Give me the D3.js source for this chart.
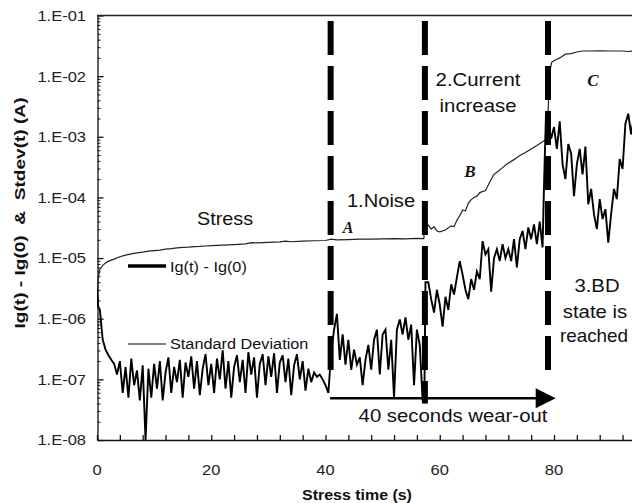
<!DOCTYPE html>
<html><head><meta charset="utf-8">
<script src="https://cdn.jsdelivr.net/npm/d3@7"></script>
<style>html,body{margin:0;padding:0;background:#fff;}svg{display:block;}</style>
</head><body>
<svg id="chart" width="632" height="503"></svg>
<script>
// ---- data ----
const igTime = [0,0.2,0.5,1,1.5,2,3,4,5,6,7,8,9,10,11,12,13,14,15,16,17,18,19,20,22,24,26,27,28,30,32,33,34,36,38,40,41,42,44,46,48,50,52,54,56,57.2,57.4,58,58.5,59,59.5,60,61,62,62.5,63,63.5,64,64.5,65,65.5,66,66.5,67,68,68.5,69,69.5,70,71,72,73,74,75,76,77,78,78.5,78.7,79,79.2,79.6,80,80.5,81,82,83,84,85,86,88,90,92,93,94];
const igValue = [2.0e-6,4.5e-6,6.5e-6,7.6e-6,8.3e-6,8.9e-6,9.6e-6,1.05e-5,1.12e-5,1.17e-5,1.22e-5,1.25e-5,1.3e-5,1.33e-5,1.35e-5,1.4e-5,1.43e-5,1.47e-5,1.5e-5,1.52e-5,1.55e-5,1.56e-5,1.58e-5,1.6e-5,1.63e-5,1.67e-5,1.72e-5,1.8e-5,1.78e-5,1.82e-5,1.85e-5,1.9e-5,1.86e-5,1.9e-5,1.93e-5,1.95e-5,2.05e-5,2.0e-5,2.02e-5,2.05e-5,2.05e-5,2.07e-5,2.1e-5,2.08e-5,2.12e-5,2.1e-5,3.2e-5,3.5e-5,3.0e-5,3.3e-5,2.8e-5,2.7e-5,2.9e-5,3.4e-5,3.3e-5,4.2e-5,5.0e-5,6.2e-5,6.0e-5,8.0e-5,9.2e-5,1.0e-4,1.05e-4,1.2e-4,1.3e-4,1.6e-4,2.0e-4,2.4e-4,2.6e-4,3.1e-4,3.7e-4,4.2e-4,4.9e-4,5.5e-4,6.3e-4,7.2e-4,8.3e-4,8.8e-4,1.5e-3,3.0e-3,1.1e-2,1.7e-2,1.8e-2,1.9e-2,2.0e-2,2.3e-2,2.35e-2,2.5e-2,2.6e-2,2.6e-2,2.62e-2,2.6e-2,2.6e-2,2.55e-2,2.62e-2];

const sdTime = [0,0.2,0.5,1,1.5,2,2.5,3,3.5,4,4.5,5,5.5,6,6.5,7,7.5,8,8.5,9,9.5,10,10.5,11,11.5,12,12.5,13,13.5,14,14.5,15,15.5,16,16.5,17,17.5,18,18.5,19,19.5,20,20.5,21,21.5,22,22.5,23,23.5,24,24.5,25,25.5,26,26.5,27,27.5,28,28.5,29,29.5,30,30.5,31,31.5,32,32.5,33,33.5,34,34.5,35,35.5,36,36.5,37,37.5,38,38.5,39,39.5,40,40.5,41,41.5,42,42.5,43,43.5,44,44.5,45,45.5,46,46.5,47,47.5,48,48.5,49,49.5,50,50.5,51,51.5,52,52.5,53,53.5,54,54.5,55,55.5,56,56.5,57,57.3,57.5,58,58.5,59,59.5,60,60.5,61,61.5,62,62.5,63,63.5,64,64.5,65,65.5,66,66.5,67,67.5,68,68.5,69,69.5,70,70.5,71,71.5,72,72.5,73,73.5,74,74.5,75,75.5,76,76.5,77,77.5,78,78.3,78.6,79,79.5,80,80.5,81,81.5,82,82.5,83,83.5,84,84.5,85,85.5,86,86.5,87,87.5,88,88.5,89,89.5,90,90.5,91,91.5,92,92.5,93,93.5,94];
const sdValue = [3.0e-6,1.6e-6,1.4e-6,4.5e-7,3.1e-7,2.5e-7,2.1e-7,1.8e-7,1.2e-7,2.0e-7,6e-8,1.6e-7,5e-8,2.2e-7,8e-8,1.4e-7,4.5e-8,1.7e-7,1.0e-8,1.5e-7,5e-8,1.8e-7,7e-8,2.0e-7,4.5e-8,1.3e-7,2.3e-7,6e-8,1.6e-7,9e-8,2.1e-7,5e-8,1.9e-7,1.1e-7,2.4e-7,7e-8,2.0e-7,5.5e-8,1.5e-7,2.6e-7,8e-8,1.8e-7,6e-8,2.2e-7,1.0e-7,3.0e-7,7e-8,2.0e-7,5e-8,1.6e-7,2.5e-7,9e-8,2.1e-7,6e-8,2.8e-7,1.2e-7,2.3e-7,5e-8,1.8e-7,2.6e-7,8e-8,2.4e-7,1.1e-7,2.7e-7,6e-8,1.9e-7,2.5e-7,9e-8,2.2e-7,5.5e-8,1.7e-7,2.6e-7,1.0e-7,2.0e-7,6.5e-8,1.5e-7,9e-8,1.3e-7,1.1e-7,1.2e-7,1.0e-7,8e-8,6e-8,2.8e-7,6.6e-7,1.2e-6,2.1e-7,5.5e-7,1.75e-7,4.5e-7,1.44e-7,3.1e-7,1.75e-7,2.3e-7,8e-8,2.1e-7,3.7e-7,1.44e-7,4.5e-7,6.6e-7,1.2e-7,5.5e-7,6.6e-7,1.44e-7,4.5e-7,5e-8,6.6e-7,9.7e-7,5.5e-7,1.05e-6,4.5e-7,8e-7,8e-8,6.6e-7,3.7e-7,4.6e-8,4.3e-8,4.0e-6,4.0e-6,2.1e-6,1.26e-6,3.0e-6,1.7e-6,7.4e-7,2.3e-6,1.4e-6,3.7e-6,2.5e-6,4.8e-6,8.9e-6,5.3e-6,3.0e-6,2.1e-6,4.5e-6,3.0e-6,6.0e-6,4.5e-6,1.9e-5,1.15e-5,1.4e-5,2.8e-6,1.0e-5,1.4e-5,8.9e-6,1.7e-5,1.0e-5,1.4e-5,8.9e-6,2.05e-5,7.0e-6,2.05e-5,2.8e-5,1.4e-5,3.2e-5,2.05e-5,3.6e-5,1.7e-5,4.0e-5,1.5e-5,2.4e-4,2.4e-3,1.65e-3,9.3e-4,1.45e-3,6.3e-4,1.8e-3,3.5e-4,2.0e-4,7.6e-4,5.3e-4,1.05e-4,3.5e-4,6.3e-4,2.4e-4,6.9e-4,7.7e-5,1.38e-4,5.3e-5,3.0e-5,9.4e-5,4.4e-5,6.4e-5,1.8e-5,5.3e-5,1.38e-4,9.4e-5,4.3e-4,2.95e-4,1.65e-3,2.4e-3,1.1e-3,2.1e-3];

const yTickValues = [1e-8,1e-7,1e-6,1e-5,1e-4,1e-3,1e-2,1e-1];
const yTickLabels = ["1.E-08","1.E-07","1.E-06","1.E-05","1.E-04","1.E-03","1.E-02","1.E-01"];
const xTickLabels = [0,20,40,60,80];
const phaseBoundaries = [40.9,57.4,78.95];
const phaseDashEnd = [1.4e-7,4.0e-8,1.4e-7];
const arrowSpan = [40.8,80.3];
const arrowLevel = 4.9e-8;

// ---- scales ----
const svg = d3.select("#chart");
const x = d3.scaleLinear().domain([0,100]).range([97,668.25]);
const y = d3.scaleLog().domain([1e-8,1e-1]).range([440,15.5]);
const SX = 1.1;

function label(px, py, s, o) {
  o = o || {};
  const g = svg.append("g").attr("transform", `translate(${px},${py}) scale(${o.sx||SX},1)`);
  return g.append("text").attr("x",0).attr("y",0)
    .attr("text-anchor", o.anchor||"start")
    .attr("font-family", o.family||"Liberation Sans, Arial, sans-serif")
    .attr("font-size", o.size||15)
    .attr("font-weight", o.weight||"normal")
    .attr("font-style", o.style||"normal")
    .attr("fill", o.fill||"#111")
    .attr("dy", o.dy||0)
    .text(s);
}

// clip
svg.append("defs").append("clipPath").attr("id","plotclip")
  .append("rect").attr("x",97).attr("y",15).attr("width",540).attr("height",426);

// axes
const xTicks = d3.range(0,101,4);
const gx = svg.append("g").attr("transform","translate(0,440)")
  .call(d3.axisBottom(x).tickValues(xTicks).tickSizeInner(-5).tickSizeOuter(0).tickFormat(""));
gx.selectAll("path,line").attr("stroke","#111").attr("stroke-width",1.3);

const minor = [];
for (let e=-8;e<-1;e++) for (let k=2;k<=9;k++) minor.push(k*Math.pow(10,e));
const gyMinor = svg.append("g").attr("transform","translate(97.5,0)")
  .call(d3.axisLeft(y).tickValues(minor).tickSizeInner(-3).tickSizeOuter(0).tickFormat(""));
gyMinor.selectAll("line").attr("stroke","#111").attr("stroke-width",1);
gyMinor.select("path").remove();
const gy = svg.append("g").attr("transform","translate(97.5,0)")
  .call(d3.axisLeft(y).tickValues(yTickValues).tickSizeInner(-6).tickSizeOuter(0).tickFormat(""));
gy.selectAll("path,line").attr("stroke","#111").attr("stroke-width",1.3);

// top border
svg.append("line").attr("x1",97).attr("x2",632).attr("y1",y(1e-1)).attr("y2",y(1e-1))
  .attr("stroke","#222").attr("stroke-width",1.3);

// tick labels
yTickValues.forEach((v,i)=>label(86, y(v), yTickLabels[i], {anchor:"end", size:15, dy:"0.36em", fill:"#222"}));
xTickLabels.forEach(v=>label(x(v), 475, String(v), {anchor:"middle", size:15, fill:"#222"}));

// axis titles
label(357, 500, "Stress time (s)", {anchor:"middle", size:14.5, weight:"bold"});
svg.append("text").attr("transform","translate(25,213) rotate(-90)")
  .attr("text-anchor","middle").attr("font-family","Liberation Sans, Arial, sans-serif")
  .attr("font-size",14.5).attr("font-weight","bold").attr("fill","#111")
  .attr("textLength",231).attr("lengthAdjust","spacingAndGlyphs")
  .attr("xml:space","preserve")
  .text("Ig(t) - Ig(0)  &  Stdev(t) (A)");

// data lines
const plot = svg.append("g").attr("clip-path","url(#plotclip)");
const line = d3.line().x(d=>x(d[0])).y(d=>y(d[1]));
plot.append("path").datum(igTime.map((t,i)=>[t,igValue[i]]))
  .attr("d",line).attr("fill","none").attr("stroke","#222").attr("stroke-width",1.2);
plot.append("path").datum(sdTime.map((t,i)=>[t,sdValue[i]]))
  .attr("d",line).attr("fill","none").attr("stroke","#000").attr("stroke-width",1.9)
  .attr("stroke-linejoin","miter");

// phase dashed lines
phaseBoundaries.forEach((t,i)=>{
  svg.append("line").attr("x1",x(t)).attr("x2",x(t))
    .attr("y1",21).attr("y2",y(phaseDashEnd[i]))
    .attr("stroke","#000").attr("stroke-width",6).attr("stroke-dasharray","34,11");
});

// arrow
svg.append("line").attr("x1",x(arrowSpan[0])).attr("x2",x(arrowSpan[1])-18)
  .attr("y1",y(arrowLevel)).attr("y2",y(arrowLevel)).attr("stroke","#000").attr("stroke-width",2.5);
{
  const ax = x(arrowSpan[1]), ay = y(arrowLevel);
  svg.append("path").attr("d",`M${ax},${ay} L${ax-20},${ay-10} L${ax-20},${ay+10} Z`).attr("fill","#000");
}
label(453, 422, "40 seconds wear-out", {anchor:"middle", size:18.5});

// legend
svg.append("line").attr("x1",128).attr("x2",166).attr("y1",266).attr("y2",266).attr("stroke","#000").attr("stroke-width",3.5);
label(170, 272, "Ig(t) - Ig(0)", {size:14.8});
svg.append("line").attr("x1",128).attr("x2",166).attr("y1",344).attr("y2",344).attr("stroke","#000").attr("stroke-width",1.2);
label(170, 349, "Standard Deviation", {size:14.8});

// annotations
label(225, 225, "Stress", {anchor:"middle", size:18});
label(381, 207, "1.Noise", {anchor:"middle", size:18.3});
label(478, 86, "2.Current", {anchor:"middle", size:18.5});
label(478, 112, "increase", {anchor:"middle", size:18.5});
label(597, 292, "3.BD", {anchor:"middle", size:18.5});
label(595, 318, "state is", {anchor:"middle", size:18.5});
label(594, 342, "reached", {anchor:"middle", size:18, sx:1.05});
const serif = "Liberation Serif, Times New Roman, serif";
label(348, 233, "A", {anchor:"middle", size:16, family:serif, weight:"bold", style:"italic", sx:1});
label(470, 177, "B", {anchor:"middle", size:17, family:serif, weight:"bold", style:"italic", sx:1});
label(593, 86, "C", {anchor:"middle", size:17, family:serif, weight:"bold", style:"italic", sx:1});
</script>
</body></html>
